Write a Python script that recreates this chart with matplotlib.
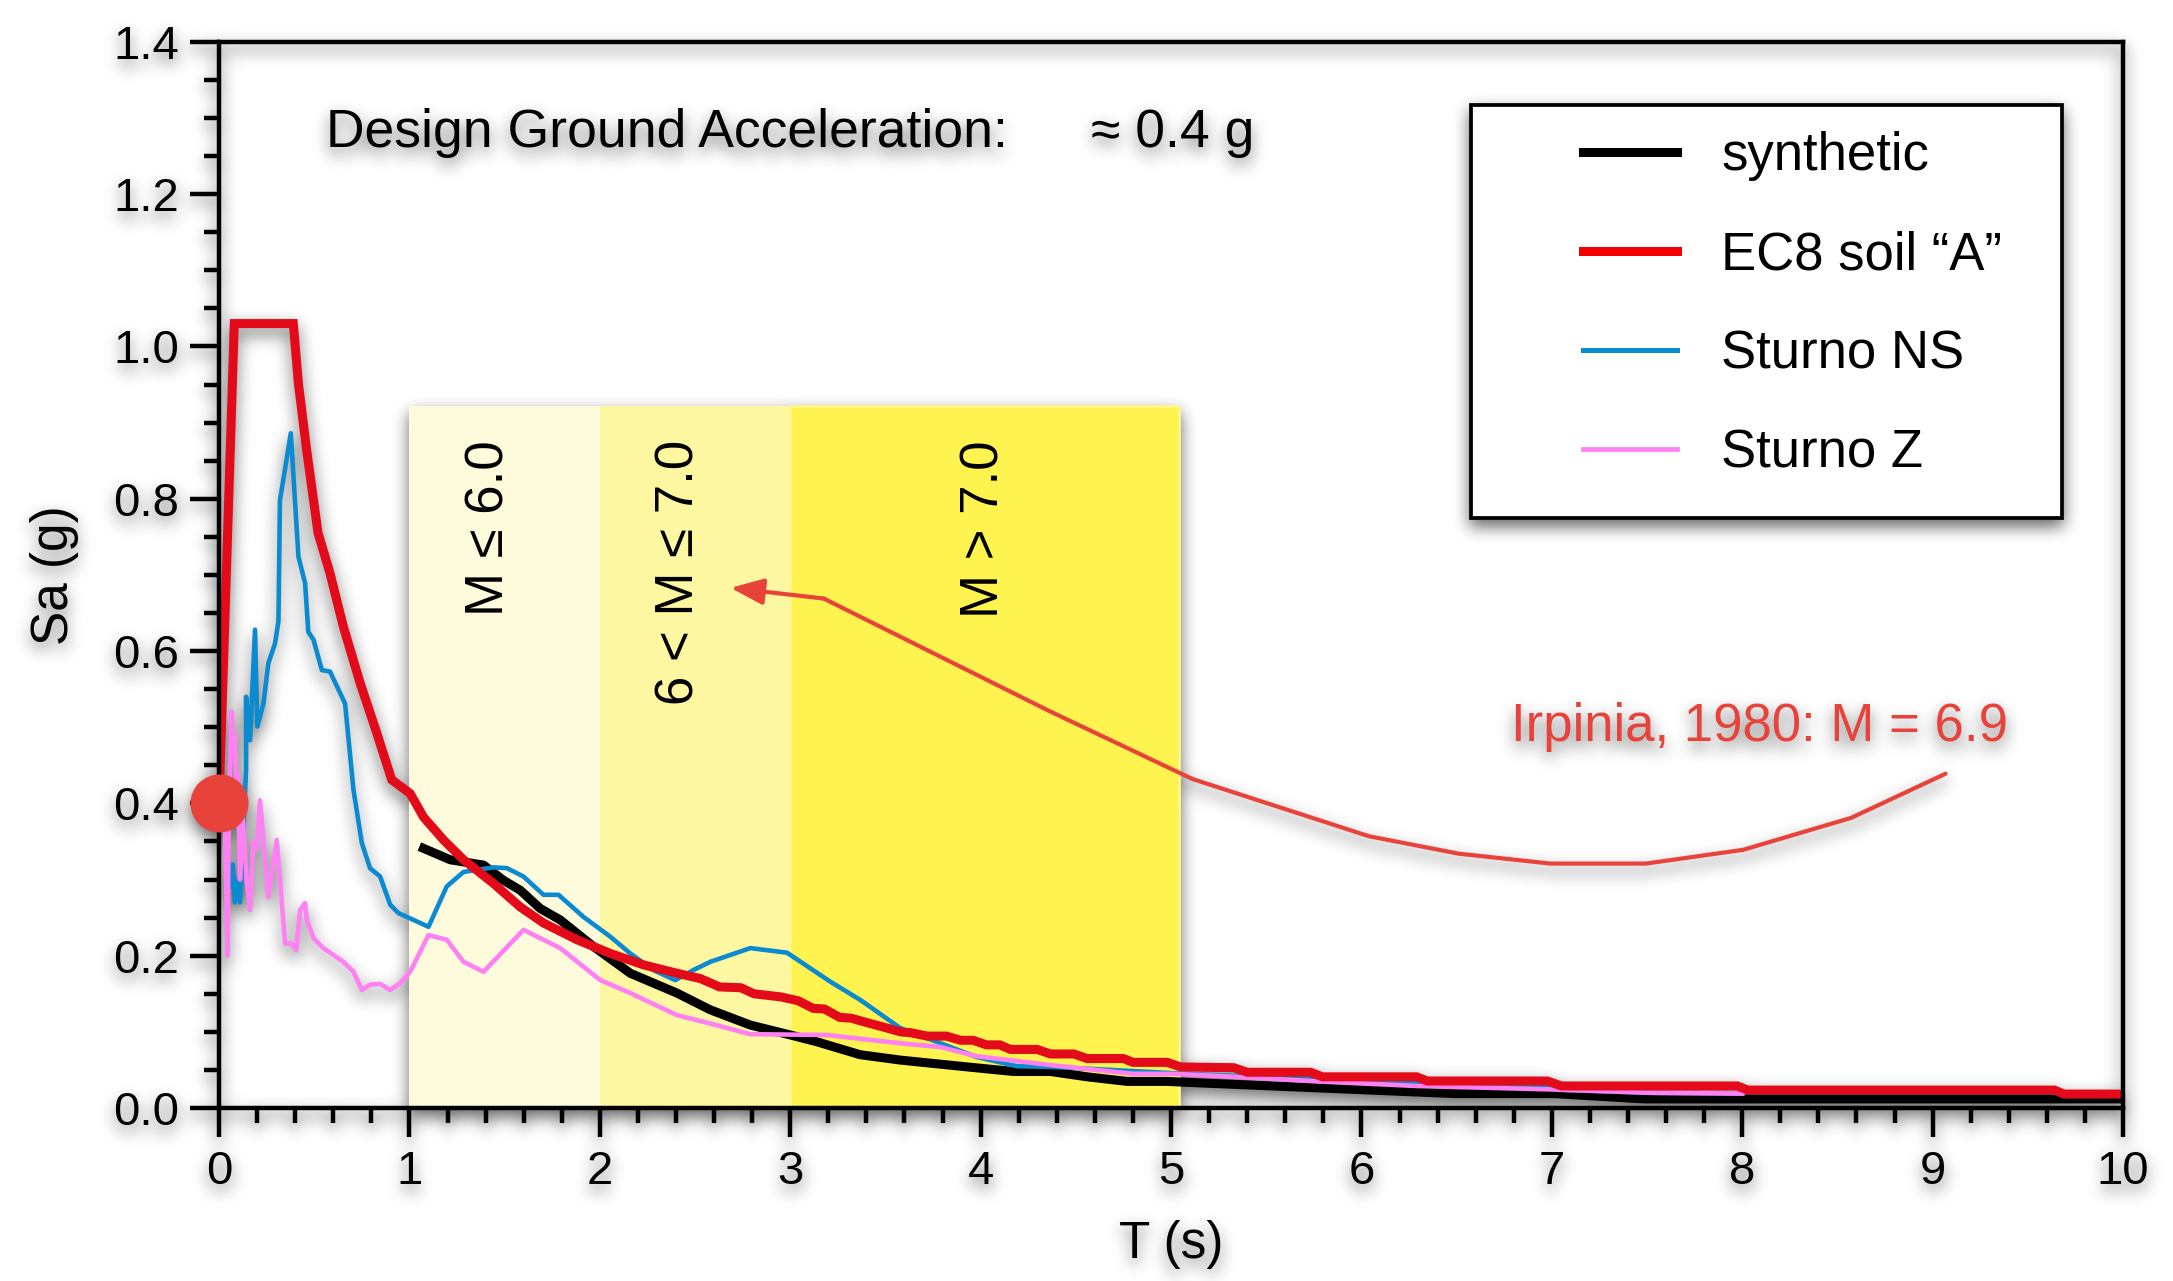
import numpy as np
import matplotlib
matplotlib.use("Agg")
import matplotlib.pyplot as plt
from matplotlib.lines import Line2D
from matplotlib.patches import Rectangle
from matplotlib.ticker import MultipleLocator, FormatStrFormatter

plt.rcParams['font.family'] = ['Liberation Sans', 'DejaVu Sans']

# ---------------------------------------------------------------- data
# EC8 elastic spectrum, soil "A"  (period s, Sa g)
ec8_T = [0.0, 0.08, 0.39, 0.417, 0.46, 0.52, 0.583, 0.653, 0.741, 0.829, 0.907,
         1.004, 1.074, 1.179, 1.284, 1.441, 1.582, 1.704, 1.88, 2.055, 2.23,
         2.405, 2.528, 2.63, 2.74, 2.81, 2.95, 3.04, 3.12, 3.18, 3.26, 3.32,
         3.42, 3.48, 3.58, 3.63, 3.72, 3.82, 3.894, 3.96, 4.03, 4.10, 4.157,
         4.297, 4.367, 4.49, 4.56, 4.75, 4.80, 4.98, 5.05, 5.33, 5.40, 5.733,
         5.795, 6.29, 6.346, 6.977, 7.05, 7.975, 8.03, 9.64, 9.69, 10.0]
ec8_Sa = [0.40, 1.03, 1.03, 0.951, 0.864, 0.755, 0.702, 0.632, 0.558, 0.492, 0.431,
          0.413, 0.382, 0.352, 0.326, 0.295, 0.264, 0.243, 0.221, 0.203, 0.188,
          0.177, 0.170, 0.159, 0.158, 0.150, 0.146, 0.141, 0.131, 0.130, 0.119, 0.118,
          0.111, 0.107, 0.100, 0.099, 0.0945, 0.0945, 0.089, 0.089, 0.083, 0.083, 0.077,
          0.077, 0.071, 0.071, 0.065, 0.065, 0.060, 0.060, 0.054, 0.053, 0.047, 0.047,
          0.041, 0.041, 0.0355, 0.0355, 0.029, 0.029, 0.0236, 0.0236, 0.0184, 0.0184]

# synthetic spectrum
syn_T = [1.074, 1.214, 1.389, 1.494, 1.582, 1.687, 1.792, 1.967, 2.16, 2.405,
         2.58, 2.79, 3.0, 3.14, 3.368, 3.578, 3.93, 4.174, 4.367, 4.56, 4.77,
         4.98, 5.155, 6.49, 7.01, 7.485, 10.0]
syn_Sa = [0.341, 0.326, 0.319, 0.299, 0.286, 0.262, 0.247, 0.212, 0.177, 0.151,
          0.129, 0.109, 0.096, 0.087, 0.070, 0.063, 0.054, 0.048, 0.048, 0.041, 0.035,
          0.035, 0.033, 0.019, 0.019, 0.012, 0.012]

# Sturno record, NS component
ns_T = [0.0, 0.04, 0.06, 0.072, 0.083, 0.10, 0.11, 0.125, 0.13, 0.142, 0.142,
        0.163, 0.189, 0.201, 0.215, 0.233, 0.259, 0.294, 0.312, 0.32, 0.377,
        0.417, 0.452, 0.469, 0.496, 0.54, 0.583, 0.662, 0.706, 0.75, 0.793,
        0.846, 0.899, 0.942, 1.004, 1.10, 1.196, 1.284, 1.441, 1.512, 1.599,
        1.704, 1.783, 1.914, 2.055, 2.16, 2.282, 2.396, 2.49, 2.58, 2.79, 2.983,
        3.21, 3.368, 3.578, 3.98, 4.19, 4.384, 5.155, 6.3, 6.98, 7.05, 7.52, 8.0]
ns_Sa = [0.40, 0.35, 0.29, 0.32, 0.27, 0.30, 0.27, 0.34, 0.38, 0.444, 0.54,
         0.483, 0.628, 0.501, 0.514, 0.531, 0.584, 0.610, 0.639, 0.798, 0.886,
         0.724, 0.689, 0.625, 0.615, 0.575, 0.573, 0.531, 0.418, 0.348, 0.315,
         0.304, 0.267, 0.256, 0.249, 0.238, 0.291, 0.310, 0.316, 0.315, 0.304,
         0.280, 0.280, 0.251, 0.225, 0.203, 0.181, 0.168, 0.181, 0.192, 0.210, 0.204,
         0.166, 0.142, 0.105, 0.067, 0.055, 0.054, 0.044, 0.033, 0.028, 0.024, 0.020, 0.019]

# Sturno record, vertical component
z_T = [0.0, 0.03, 0.045, 0.05, 0.058, 0.067, 0.075, 0.082, 0.09, 0.10, 0.11,
       0.125, 0.145, 0.163, 0.18, 0.198, 0.215, 0.259, 0.303, 0.347, 0.382,
       0.405, 0.426, 0.452, 0.461, 0.496, 0.548, 0.653, 0.706, 0.75, 0.793,
       0.846, 0.899, 0.951, 1.004, 1.10, 1.196, 1.284, 1.389, 1.599, 1.792,
       2.002, 2.16, 2.405, 2.58, 2.79, 3.19, 3.58, 3.79, 3.98, 4.384, 4.80,
       5.01, 5.26, 5.77, 6.29, 6.99, 7.52, 8.0]
z_Sa = [0.40, 0.38, 0.20, 0.36, 0.45, 0.52, 0.47, 0.49, 0.43, 0.44, 0.30,
        0.38, 0.30, 0.26, 0.35, 0.34, 0.404, 0.277, 0.352, 0.216, 0.216,
        0.207, 0.260, 0.269, 0.247, 0.223, 0.210, 0.192, 0.179, 0.155, 0.162,
        0.163, 0.155, 0.164, 0.179, 0.227, 0.221, 0.192, 0.179, 0.234, 0.210,
        0.168, 0.151, 0.122, 0.111, 0.097, 0.096, 0.085, 0.080, 0.068, 0.056, 0.045,
        0.045, 0.042, 0.035, 0.029, 0.0245, 0.020, 0.019]

# design ground acceleration (g)
pga = 0.4

# magnitude ranges shaded on the period axis
band_edges = [1.0, 2.0, 3.0, 5.04]
band_top = 0.922
band_colors = ['#FEFBDC', '#FEF7A2', '#FFF350']
band_labels = ['M \u2264 6.0', '6 < M \u2264 7.0', 'M > 7.0']
band_label_T = [1.42, 2.42, 4.02]

# Irpinia 1980 callout path (period s, Sa g), ending at the arrow tip
irpinia_T = [9.068, 8.572, 8.004, 7.494, 6.992, 6.511, 6.038, 5.113, 4.363, 3.176, 2.687]
irpinia_Sa = [0.439, 0.381, 0.339, 0.321, 0.321, 0.334, 0.357, 0.432, 0.521, 0.669, 0.683]

legend_labels = ['synthetic', 'EC8 soil \u201cA\u201d', 'Sturno NS', 'Sturno Z']

# ---------------------------------------------------------------- colours
C_EC8 = '#E30A19'
C_SYN = '#000000'
C_NS = '#0A8AD0'
C_Z = '#FF80F2'
C_NOTE = '#E8433A'

# ---------------------------------------------------------------- figure
DPI = 100
fig = plt.figure(figsize=(21.73, 12.81), dpi=DPI)
fig.patch.set_alpha(0.0)
ax = fig.add_axes([0.1008, 0.135, 0.8762, 0.8324])
ax.set_facecolor('none')

for (x0, x1), col in zip(zip(band_edges[:-1], band_edges[1:]), band_colors):
    ax.fill_between([x0, x1], 0, band_top, color=col, lw=0, zorder=1)
ax.fill_between([band_edges[2], band_edges[3]], 0, band_top, facecolor='none',
                edgecolor='#FFF68C', lw=2.0, zorder=1.1)

for xc, lab in zip(band_label_T, band_labels):
    ax.text(xc, 0.877, lab, rotation=90, ha='center', va='top',
            fontsize=38, zorder=2)

ax.plot(syn_T, syn_Sa, color=C_SYN, lw=6.5, zorder=3)
ax.plot(ns_T, ns_Sa, color=C_NS, lw=3.3, zorder=4)
ax.plot(z_T, z_Sa, color=C_Z, lw=3.3, zorder=5)
ax.plot(ec8_T, ec8_Sa, color=C_EC8, lw=6.5, zorder=6, solid_joinstyle='miter')
ax.plot([0.0], [pga], 'o', ms=41.8, color=C_NOTE, mec='none', clip_on=False, zorder=10)

# callout
ax.plot(irpinia_T[:-1], irpinia_Sa[:-1], color=C_NOTE, lw=3.0, zorder=9,
        solid_joinstyle='round', solid_capstyle='round')
ax.annotate('', xy=(irpinia_T[-1], irpinia_Sa[-1]), xytext=(irpinia_T[-2], irpinia_Sa[-2]),
            arrowprops=dict(arrowstyle='-|>,head_length=0.4,head_width=0.16',
                            mutation_scale=50, color=C_NOTE, lw=3.0,
                            shrinkA=0, shrinkB=0), zorder=9)
ax.text(6.788, 0.482, 'Irpinia, 1980: M = 6.9', color=C_NOTE, fontsize=38,
        ha='left', va='baseline', zorder=9)

ax.text(0.561, 1.262, 'Design Ground Acceleration:', fontsize=38.5, ha='left', va='baseline')
ax.text(4.58, 1.262, '\u2248 0.4 g', fontsize=38.5, ha='left', va='baseline')

# legend
ax.add_patch(Rectangle((0.6573, 0.5533), 0.3107, 0.3873, transform=ax.transAxes,
                       facecolor='white', edgecolor='black', lw=2.7, zorder=11))
handles = [Line2D([], [], color=C_SYN, lw=6.5),
           Line2D([], [], color='#F50000', lw=6.5),
           Line2D([], [], color=C_NS, lw=3.6),
           Line2D([], [], color=C_Z, lw=3.4)]
leg = ax.legend(handles, legend_labels, loc='upper left', bbox_to_anchor=(0.7165, 0.916),
                frameon=False, borderpad=0, borderaxespad=0, handlelength=1.78,
                handletextpad=0.83, labelspacing=0.93, fontsize=38)
leg.set_zorder(12)

# axes
ax.set_xlim(0, 10)
ax.set_ylim(0, 1.4)
ax.xaxis.set_major_locator(MultipleLocator(1))
ax.xaxis.set_minor_locator(MultipleLocator(0.2))
ax.yaxis.set_major_locator(MultipleLocator(0.2))
ax.yaxis.set_minor_locator(MultipleLocator(0.05))
ax.yaxis.set_major_formatter(FormatStrFormatter('%.1f'))
for s in ax.spines.values():
    s.set_linewidth(3.2)
    s.set_zorder(8)
ax.tick_params(which='major', length=21, width=3.2, labelsize=34)
ax.tick_params(axis='y', which='major', pad=8)
ax.tick_params(axis='x', which='major', pad=9)
ax.tick_params(which='minor', length=11, width=3.2)
ax.set_xlabel('T (s)', fontsize=37)
ax.set_ylabel('Sa (g)', fontsize=37)
ax.xaxis.set_label_coords(0.5, -0.105)
ax.yaxis.set_label_coords(-0.0735, 0.5)

# soft drop shadow beneath everything that was drawn
fig.canvas.draw()
alpha = np.asarray(fig.canvas.buffer_rgba())[..., 3].astype(float) / 255.0


def gaussian_blur(a, sigma):
    r = int(3 * sigma)
    xs = np.arange(-r, r + 1)
    k = np.exp(-0.5 * (xs / sigma) ** 2)
    k /= k.sum()
    h, w = a.shape
    p = np.pad(a, ((0, 0), (r, r)))
    t = sum(k[i] * p[:, i:i + w] for i in range(2 * r + 1))
    p = np.pad(t, ((r, r), (0, 0)))
    return sum(k[i] * p[i:i + h, :] for i in range(2 * r + 1))


blurred = gaussian_blur(alpha, 8.0)
dy = 7
shade = np.zeros_like(blurred)
shade[dy:, :] = blurred[:-dy, :]
shadow = np.zeros(shade.shape + (4,))
shadow[..., 3] = np.clip(0.6 * shade, 0, 1)
fig.figimage(shadow, xo=0, yo=0, origin='upper', zorder=-10)

fig.patch.set_alpha(1.0)
fig.patch.set_facecolor('white')
fig.savefig('out.png', dpi=DPI, facecolor='white')
